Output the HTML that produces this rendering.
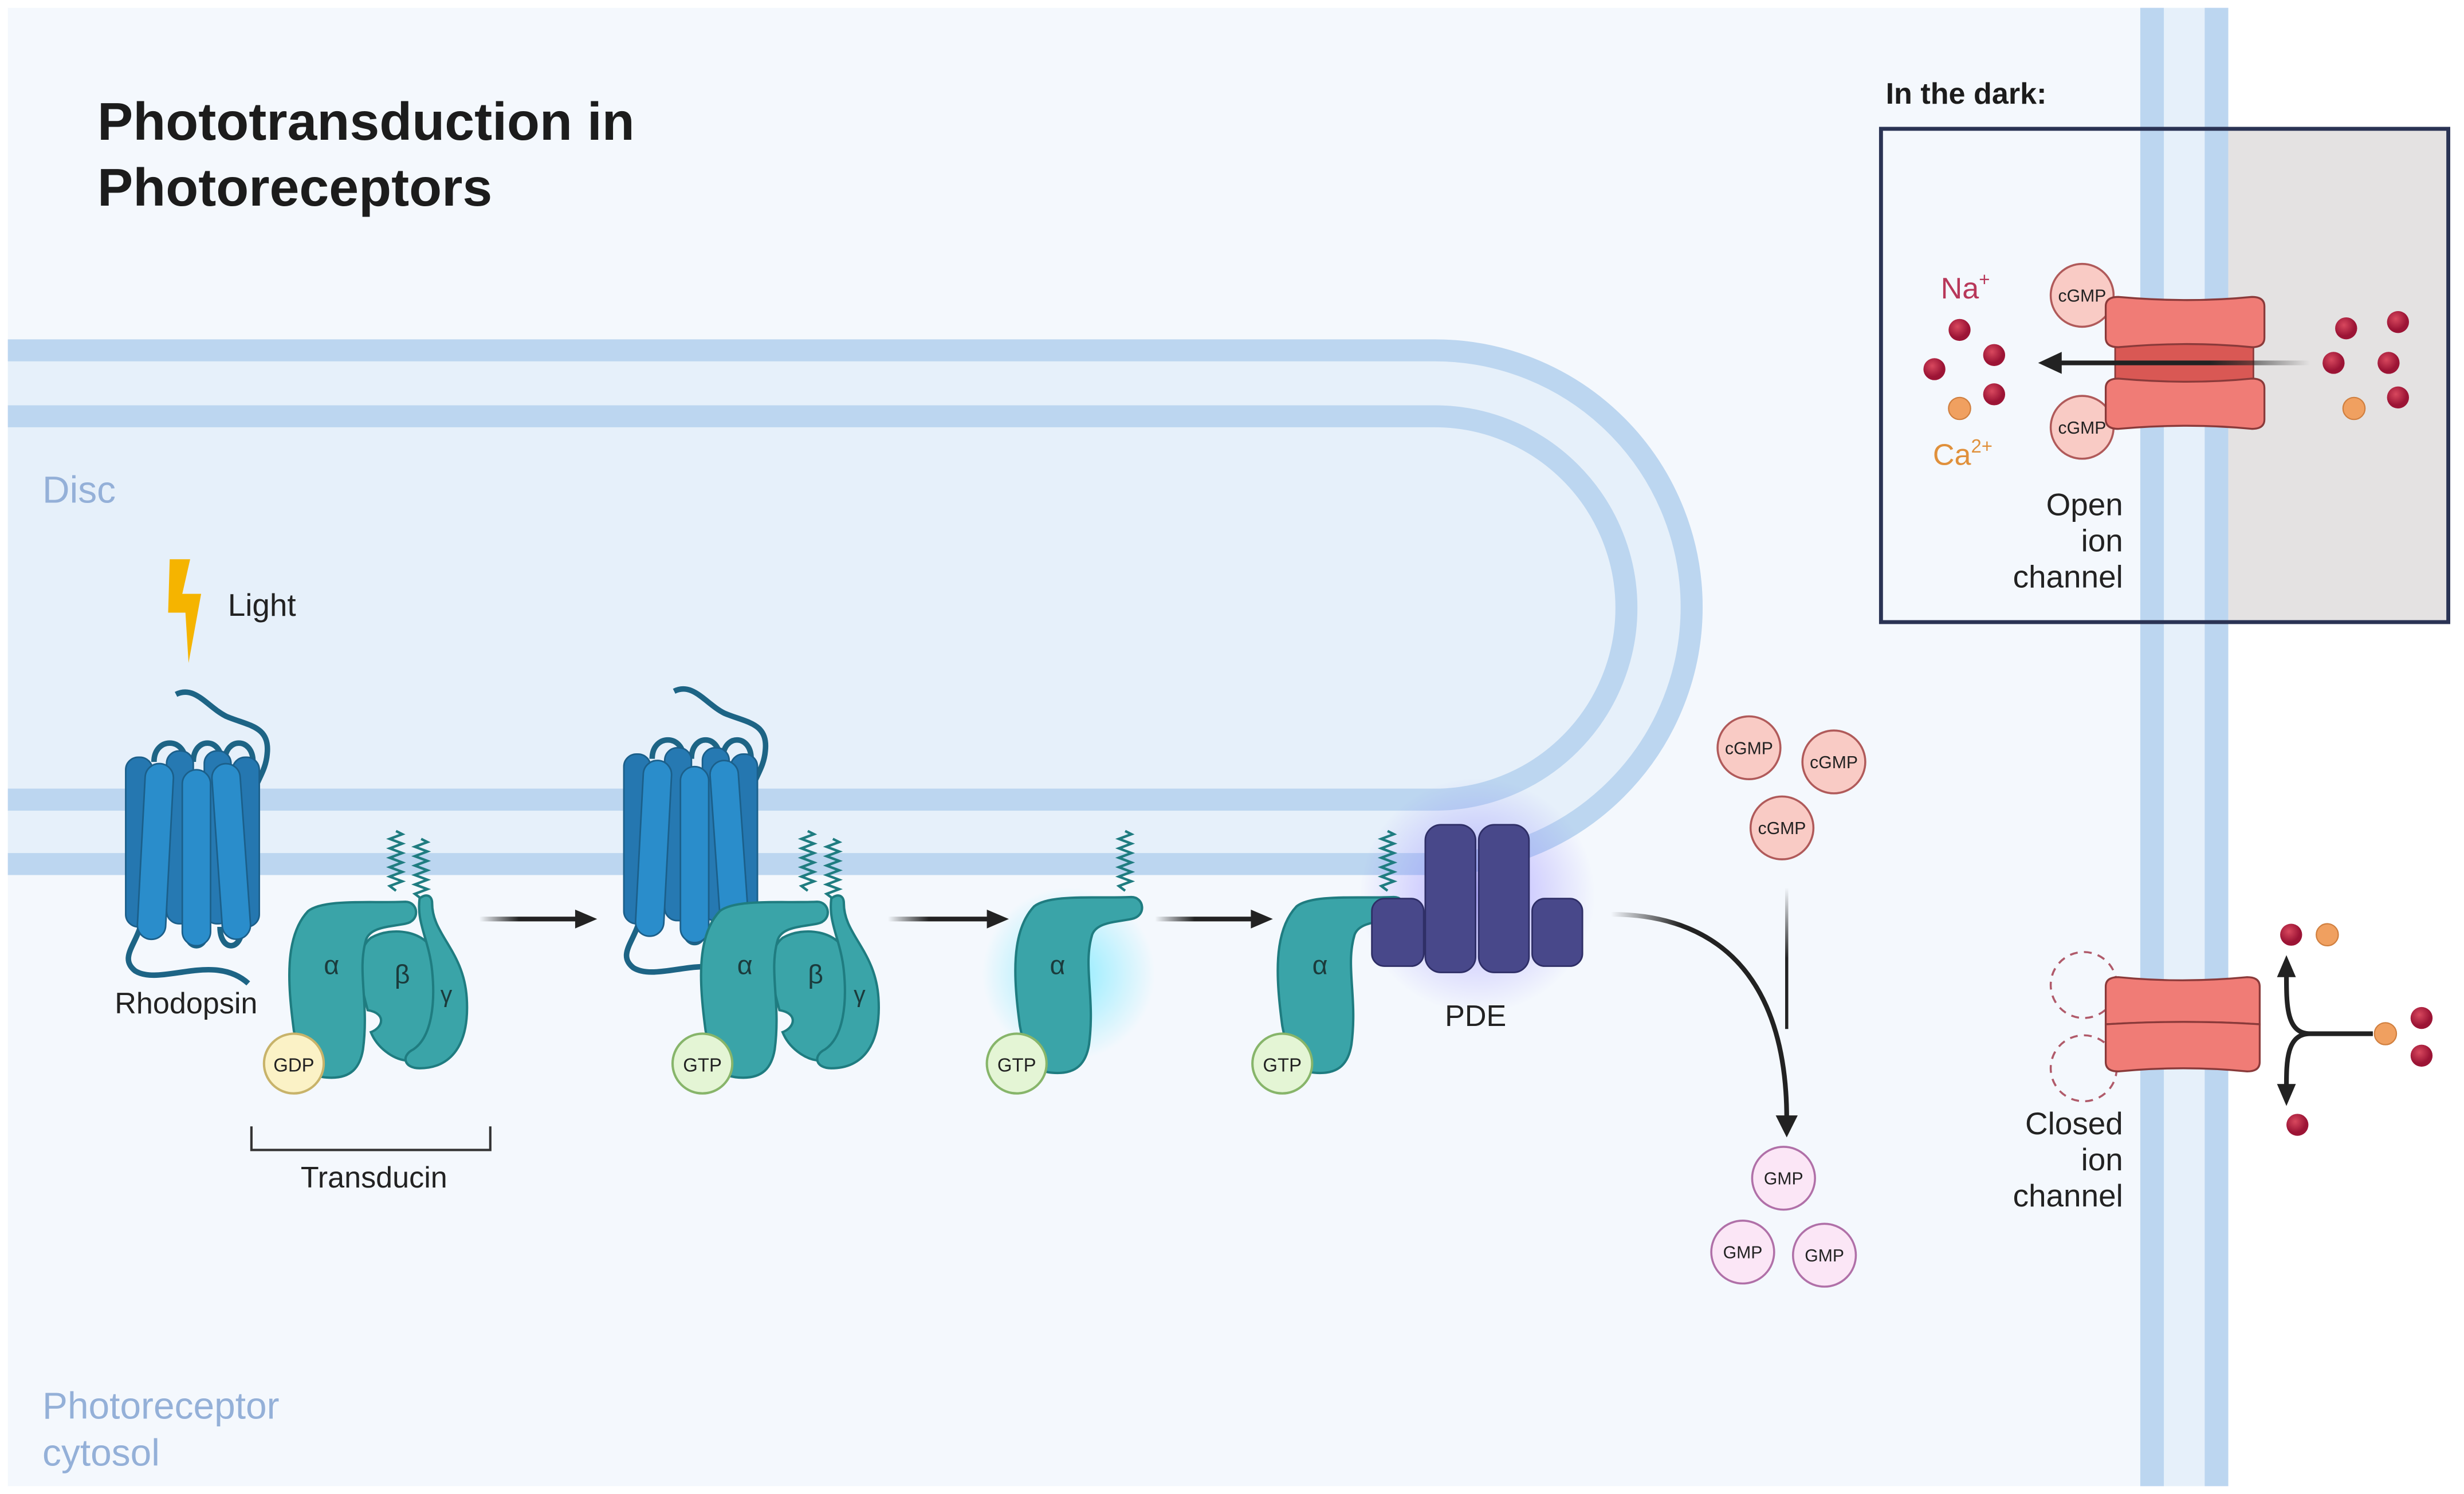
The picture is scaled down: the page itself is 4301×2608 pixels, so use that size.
<!DOCTYPE html>
<html><head><meta charset="utf-8"><style>
html,body{margin:0;padding:0;background:#fff}
svg{display:block}
text{font-family:"Liberation Sans",sans-serif}
</style></head><body>
<svg width="4301" height="2608" viewBox="0 0 1568 951" preserveAspectRatio="none" xmlns="http://www.w3.org/2000/svg">
<defs>
<linearGradient id="fade" x1="0" x2="1"><stop offset="0" stop-color="#222" stop-opacity="0"/><stop offset="0.4" stop-color="#222"/></linearGradient>
<linearGradient id="fadeL" x1="1" x2="0"><stop offset="0" stop-color="#222" stop-opacity="0"/><stop offset="0.4" stop-color="#222"/></linearGradient>
<linearGradient id="fadeD" x1="0" y1="0" x2="0" y2="1"><stop offset="0" stop-color="#222" stop-opacity="0"/><stop offset="0.5" stop-color="#222"/></linearGradient>
<radialGradient id="glowP"><stop offset="0" stop-color="#8a7cff" stop-opacity="0.6"/><stop offset="1" stop-color="#8a7cff" stop-opacity="0"/></radialGradient>
<radialGradient id="glowC"><stop offset="0" stop-color="#5fe6ff" stop-opacity="0.7"/><stop offset="1" stop-color="#5fe6ff" stop-opacity="0"/></radialGradient>
<radialGradient id="ion" cx="0.4" cy="0.35"><stop offset="0" stop-color="#d8485e"/><stop offset="1" stop-color="#9c1435"/></radialGradient>
<g id="rho">
 <path d="M34 2 c12 -6 20 8 32 14 c14 6 28 6 26 24 c-1 12 -8 18 -10 30" fill="none" stroke="#1d6485" stroke-width="3.5"/>
 <path d="M20 45 c0 -16 20 -16 20 0 M45 45 c0 -16 18 -16 18 0 M65 45 c0 -16 18 -16 18 0" fill="none" stroke="#1d6485" stroke-width="3.5"/>
 <path d="M12 148 c-4 14 -14 22 -4 30 c16 10 50 -12 72 8 M40 150 c0 16 14 16 14 0 M62 150 c0 16 14 16 14 0" fill="none" stroke="#1d6485" stroke-width="3.5"/>
 <rect x="2" y="42" width="17" height="108" rx="8" fill="#2577b0" stroke="#1b5f8a"/>
 <rect x="70" y="42" width="17" height="108" rx="8" fill="#2577b0" stroke="#1b5f8a"/>
 <rect x="28" y="38" width="17" height="110" rx="8" fill="#2679b2" stroke="#1b5f8a"/>
 <rect x="52" y="38" width="17" height="110" rx="8" fill="#2679b2" stroke="#1b5f8a"/>
 <rect x="12" y="46" width="18" height="112" rx="9" fill="#2a8dcb" stroke="#1b5f8a" transform="rotate(3 21 100)"/>
 <rect x="38" y="50" width="18" height="112" rx="9" fill="#2a8dcb" stroke="#1b5f8a"/>
 <rect x="60" y="46" width="18" height="112" rx="9" fill="#2a8dcb" stroke="#1b5f8a" transform="rotate(-4 69 100)"/>
</g>
<g id="squig"><path d="M0 0 l-4 -3 l8 -3 l-8 -3 l8 -3 l-8 -3 l8 -3 l-8 -3 l8 -3 l-8 -3 l8 -3 l-8 -3 l8 -3 l-4 -2" fill="none" stroke="#1f7c80" stroke-width="1.6"/></g>
<g id="alpha"><path d="M12 5 c10 -8 40 -5 62 -6 c8 0 10 12 0 14 c-10 2 -22 2 -25 10 c-6 20 2 40 -2 70 c-2 12 -8 18 -20 18 c-18 0 -20 -10 -24 -30 c-4 -30 -6 -60 9 -76z" fill="#3aa4a8" stroke="#1f7c80" stroke-width="1.5"/></g>
<g id="bg"><path d="M52 22 c14 -8 36 -4 40 10 c4 20 -2 30 0 50 c2 15 -5 20 -18 18 c-8 -1 -18 -8 -22 -18 c8 -3 10 -12 -2 -14 c-4 -15 -10 -36 2 -46z" fill="#3aa4a8" stroke="#1f7c80" stroke-width="1.5"/>
<path d="M83 -3 c3 -3 8 -3 8 3 c0 20 20 30 22 60 c2 30 -10 45 -30 45 c-10 0 -12 -8 -4 -12 c12 -8 14 -30 12 -50 c-2 -20 -10 -30 -8 -46z" fill="#3aa4a8" stroke="#1f7c80" stroke-width="1.5"/></g>
<g id="transducin">
 <use href="#squig" x="68" y="-8"/>
 <use href="#squig" x="84" y="-3"/>
 <use href="#bg"/><use href="#alpha"/>
</g>
</defs>
<rect x="5" y="5" width="1413" height="941" fill="#f4f8fd"/>
<!-- disc -->
<path d="M5 216 H913 A170.5 170.5 0 0 1 913 557 H5Z" fill="#e6f0fa"/>
<path d="M5 223 H913 A163.5 163.5 0 0 1 913 550 H5" fill="none" stroke="#bcd6f0" stroke-width="14"/>
<path d="M5 265 H913 A121.5 121.5 0 0 1 913 509 H5" fill="none" stroke="#bcd6f0" stroke-width="14"/>
<!-- cell membrane -->
<rect x="1362" y="5" width="56" height="941" fill="#e6f0fa"/>
<rect x="1362" y="5" width="15" height="941" fill="#bcd6f0"/>
<rect x="1403" y="5" width="15" height="941" fill="#bcd6f0"/>
<!-- inset -->
<rect x="1418" y="82" width="140" height="314" fill="#e4e2e2"/>
<rect x="1197" y="82" width="361" height="314" fill="none" stroke="#2a3354" stroke-width="2.5"/>
<text x="1200" y="66" font-size="19" font-weight="bold" fill="#1c1c1c">In the dark:</text>
<text x="62" y="89" font-size="34" font-weight="bold" fill="#1c1c1c">Phototransduction in</text>
<text x="62" y="131" font-size="34" font-weight="bold" fill="#1c1c1c">Photoreceptors</text>
<text x="27" y="320" font-size="24" fill="#94b0d8">Disc</text>
<text x="27" y="903" font-size="24" fill="#94b0d8">Photoreceptor</text>
<text x="27" y="933" font-size="24" fill="#94b0d8">cytosol</text>
<!-- light -->
<path d="M108 356 L121 356 L116 378 L128 378 L120 422 L118 390 L107 390Z" fill="#f5b400"/>
<text x="145" y="392" font-size="20" fill="#222">Light</text>
<use href="#rho" x="78" y="440"/>
<use href="#rho" x="395" y="438"/>
<text x="73" y="645" font-size="19" fill="#222">Rhodopsin</text>
<!-- transducin 1 -->
<use href="#transducin" x="184" y="575"/>
<circle cx="187" cy="677" r="19" fill="#fbf2c6" stroke="#c8b36a" stroke-width="1.5"/>
<text x="187" y="682" font-size="12" text-anchor="middle" fill="#222">GDP</text>
<text x="211" y="620" font-size="17" text-anchor="middle" fill="#1b3b3c">α</text>
<text x="256" y="626" font-size="17" text-anchor="middle" fill="#1b3b3c">β</text>
<text x="284" y="638" font-size="15" text-anchor="middle" fill="#1b3b3c">γ</text>
<path d="M160 717 V732 H312 V717" fill="none" stroke="#333" stroke-width="1.5"/>
<text x="238" y="756" font-size="19" text-anchor="middle" fill="#222">Transducin</text>
<!-- transducin 2 -->
<use href="#transducin" x="446" y="575"/>
<circle cx="447" cy="677" r="19" fill="#e4f5d5" stroke="#87b56a" stroke-width="1.5"/>
<text x="447" y="682" font-size="12" text-anchor="middle" fill="#222">GTP</text>
<text x="474" y="620" font-size="17" text-anchor="middle" fill="#1b3b3c">α</text>
<text x="519" y="626" font-size="17" text-anchor="middle" fill="#1b3b3c">β</text>
<text x="547" y="638" font-size="15" text-anchor="middle" fill="#1b3b3c">γ</text>
<!-- alpha alone -->
<circle cx="680" cy="620" r="55" fill="url(#glowC)"/>
<use href="#squig" x="716" y="567"/>
<use href="#alpha" x="646" y="572"/>
<circle cx="647" cy="677" r="19" fill="#e4f5d5" stroke="#87b56a" stroke-width="1.5"/>
<text x="647" y="682" font-size="12" text-anchor="middle" fill="#222">GTP</text>
<text x="673" y="620" font-size="17" text-anchor="middle" fill="#1b3b3c">α</text>
<!-- PDE -->
<circle cx="940" cy="570" r="75" fill="url(#glowP)"/>
<use href="#squig" x="883" y="567"/>
<use href="#alpha" x="813" y="572"/>
<rect x="873" y="572" width="33" height="43" rx="8" fill="#48488a" stroke="#2e2e66"/>
<rect x="907" y="525" width="32" height="94" rx="10" fill="#48488a" stroke="#2e2e66"/>
<rect x="941" y="525" width="32" height="94" rx="10" fill="#48488a" stroke="#2e2e66"/>
<rect x="975" y="572" width="32" height="43" rx="8" fill="#48488a" stroke="#2e2e66"/>
<circle cx="816" cy="677" r="19" fill="#e4f5d5" stroke="#87b56a" stroke-width="1.5"/>
<text x="816" y="682" font-size="12" text-anchor="middle" fill="#222">GTP</text>
<text x="840" y="620" font-size="17" text-anchor="middle" fill="#1b3b3c">α</text>
<text x="939" y="653" font-size="19" text-anchor="middle" fill="#222">PDE</text>
<!-- arrows -->
<rect x="305" y="583.5" width="63" height="3" fill="url(#fade)"/>
<rect x="565" y="583.5" width="65" height="3" fill="url(#fade)"/>
<rect x="735" y="583.5" width="63" height="3" fill="url(#fade)"/>
<path d="M366 579 L380 585 L366 591Z M628 579 L642 585 L628 591Z M796 579 L810 585 L796 591Z" fill="#222"/>
<path d="M1025 582 C1100 582 1137 630 1137 712" fill="none" stroke="url(#fade)" stroke-width="3"/>
<rect x="1136" y="565" width="2" height="90" fill="url(#fadeD)"/>
<path d="M1130 710 L1137 724 L1144 710Z" fill="#222"/>
<!-- cGMP / GMP -->
<g font-size="11" text-anchor="middle" fill="#222">
<g fill="#f9cbc5" stroke="#b05a5a" stroke-width="1.3">
<circle cx="1113" cy="476" r="20"/><circle cx="1167" cy="485" r="20"/><circle cx="1134" cy="527" r="20"/>
<circle cx="1325" cy="188" r="20"/><circle cx="1325" cy="272" r="20"/></g>
<text x="1113" y="480">cGMP</text><text x="1167" y="489">cGMP</text><text x="1134" y="531">cGMP</text>
<text x="1325" y="192">cGMP</text><text x="1325" y="276">cGMP</text>
<g fill="#fbe6f6" stroke="#b070a8" stroke-width="1.3">
<circle cx="1135" cy="750" r="20"/><circle cx="1109" cy="797" r="20"/><circle cx="1161" cy="799" r="20"/></g>
<text x="1135" y="754">GMP</text><text x="1109" y="801">GMP</text><text x="1161" y="803">GMP</text>
</g>
<!-- open channel -->
<rect x="1346" y="212" width="88" height="38" fill="#d95854" stroke="#8a3a3a" stroke-width="1"/>
<path d="M1340 195 q0 -6 8 -6 q45 4 85 0 q8 0 8 6 v20 q0 6 -8 6 q-40 -4 -85 0 q-8 0 -8 -6z" fill="#f07c76" stroke="#8a3a3a" stroke-width="1.2"/>
<path d="M1340 247 q0 -6 8 -6 q45 4 85 0 q8 0 8 6 v20 q0 6 -8 6 q-40 -4 -85 0 q-8 0 -8 -6z" fill="#f07c76" stroke="#8a3a3a" stroke-width="1.2"/>
<rect x="1310" y="229.5" width="160" height="3" fill="url(#fadeL)"/>
<path d="M1312 224 L1297 231 L1312 238Z" fill="#222"/>
<text x="1235" y="190" font-size="19" fill="#b8385a">Na<tspan font-size="12" dy="-8">+</tspan></text>
<text x="1230" y="296" font-size="19" fill="#e0903b">Ca<tspan font-size="12" dy="-8">2+</tspan></text>
<g font-size="20" fill="#222" text-anchor="end"><text x="1351" y="328">Open</text><text x="1351" y="351">ion</text><text x="1351" y="374">channel</text>
<text x="1351" y="722">Closed</text><text x="1351" y="745">ion</text><text x="1351" y="768">channel</text></g>
<g fill="url(#ion)"><circle cx="1247" cy="210" r="7"/><circle cx="1269" cy="226" r="7"/><circle cx="1231" cy="235" r="7"/><circle cx="1269" cy="251" r="7"/>
<circle cx="1493" cy="209" r="7"/><circle cx="1526" cy="205" r="7"/><circle cx="1485" cy="231" r="7"/><circle cx="1520" cy="231" r="7"/><circle cx="1526" cy="253" r="7"/>
<circle cx="1458" cy="595" r="7"/><circle cx="1541" cy="648" r="7"/><circle cx="1541" cy="672" r="7"/><circle cx="1462" cy="716" r="7"/></g>
<g fill="#f0a060" stroke="#d07f3f" stroke-width="0.8"><circle cx="1247" cy="260" r="7"/><circle cx="1498" cy="260" r="7"/><circle cx="1481" cy="595" r="7"/><circle cx="1518" cy="658" r="7"/></g>
<!-- closed channel -->
<g fill="none" stroke="#b05a6a" stroke-width="1.3" stroke-dasharray="5 4"><circle cx="1326" cy="627" r="21"/><circle cx="1326" cy="680" r="21"/></g>
<path d="M1340 628 q0 -6 8 -6 q40 4 82 0 q8 0 8 6 v24 q-45 -3 -98 0z" fill="#f07c76" stroke="#8a3a3a" stroke-width="1.2"/>
<path d="M1340 652 q50 -3 98 0 v24 q0 6 -8 6 q-40 -4 -82 0 q-8 0 -8 -6z" fill="#f07c76" stroke="#8a3a3a" stroke-width="1.2"/>
<path d="M1510 658 H1470 C1455 658 1455 640 1455 620 M1470 658 C1455 658 1455 676 1455 692" fill="none" stroke="#222" stroke-width="3"/>
<path d="M1449 622 L1455 608 L1461 622Z M1449 690 L1455 704 L1461 690Z" fill="#222"/>
</svg>
</body></html>
